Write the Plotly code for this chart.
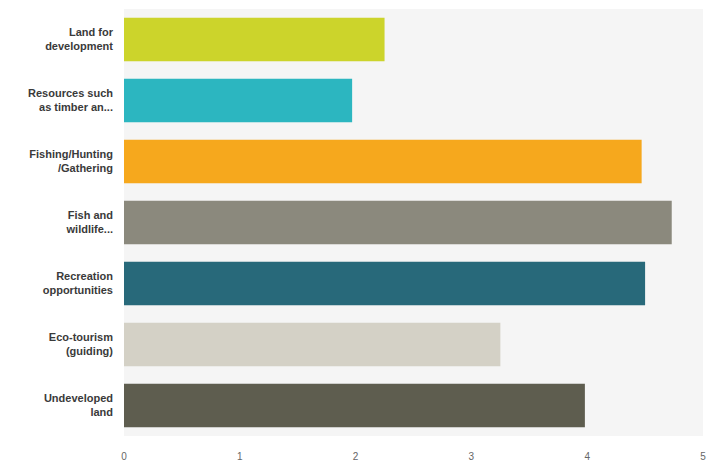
import plotly.graph_objects as go

# Survey answer categories (top to bottom) and their average ratings
categories = [
    "Land for<br>development",
    "Resources such<br>as timber an...",
    "Fishing/Hunting<br>/Gathering",
    "Fish and<br>wildlife...",
    "Recreation<br>opportunities",
    "Eco-tourism<br>(guiding)",
    "Undeveloped<br>land",
]
ratings = [2.25, 1.97, 4.47, 4.73, 4.50, 3.25, 3.98]
bar_colors = ["#ccd42b", "#2cb6c0", "#f6a81d", "#8b897d", "#28697a", "#d4d1c6", "#5e5d4f"]
tick_values = [0, 1, 2, 3, 4, 5]

fig = go.Figure(
    go.Bar(
        x=ratings,
        y=categories,
        orientation="h",
        marker=dict(color=bar_colors, line=dict(width=0)),
        hoverinfo="x+y",
    )
)

fig.update_layout(
    width=710,
    height=464,
    margin=dict(l=124, r=7, t=9, b=28),
    paper_bgcolor="#ffffff",
    plot_bgcolor="#f5f5f5",
    bargap=0.29,
    showlegend=False,
    font=dict(family="Liberation Sans, Arial, sans-serif", size=11, color="#3a3a3a"),
)

fig.update_yaxes(
    autorange="reversed",
    automargin=False,
    showgrid=False,
    zeroline=False,
    showline=False,
    ticks="",
    ticklabelstandoff=10,
    tickfont=dict(size=11, color="#3a3a3a", weight="bold"),
)

fig.update_xaxes(
    range=[0, 5],
    tickvals=tick_values,
    automargin=False,
    showgrid=False,
    zeroline=False,
    showline=False,
    ticks="",
    ticklabelstandoff=13,
    tickfont=dict(size=10, color="#666666"),
)

fig.write_html("out.html")
